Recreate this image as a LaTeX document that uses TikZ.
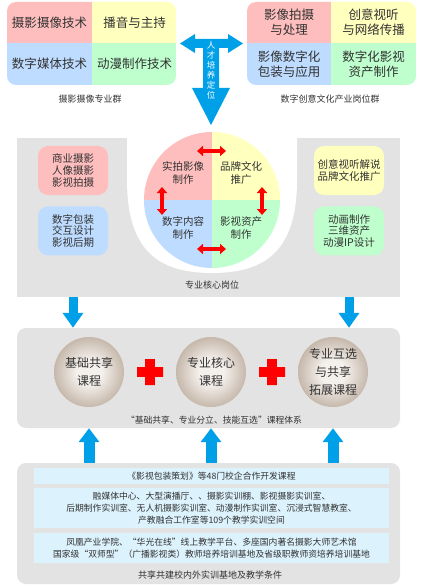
\documentclass[tikz,border=0pt]{standalone}
\usepackage{fontspec}
\setmainfont{Noto Sans CJK SC}
\usepackage{tikz}
\usetikzlibrary{arrows.meta,positioning,calc,fit}
\usepackage{xcolor}
\definecolor{quadpink}{RGB}{255,190,190}
\definecolor{quadyellow}{RGB}{255,255,190}
\definecolor{quadblue}{RGB}{190,220,255}
\definecolor{quadgreen}{RGB}{190,255,205}
\definecolor{panelgray}{RGB}{227,227,227}
\definecolor{rowblue}{RGB}{220,242,252}
\definecolor{flowblue}{RGB}{0,160,233}
\definecolor{inkgray}{RGB}{50,50,50}
\definecolor{beigein}{RGB}{244,240,236}
\definecolor{beigeout}{RGB}{198,184,171}
\pgfdeclareradialshading{coursefill}{\pgfpointorigin}{color(0bp)=(beigein); color(9bp)=(beigein); color(25bp)=(beigeout); color(50bp)=(beigeout)}

\begin{document}
\begin{tikzpicture}[x=1pt, y=-1pt,
  every node/.style={text=inkgray},
  quad/.style={inner sep=0pt, align=center, font=\fontsize{12.5}{15}\selectfont},
  hubtext/.style={inner sep=0pt, align=center, font=\fontsize{10.5}{12.5}\selectfont},
  sidebox/.style={rounded corners=10pt, inner sep=0pt, align=center, minimum width=70pt, minimum height=49pt, font=\fontsize{10.5}{11.7}\selectfont},
  caption/.style={inner sep=0pt, font=\fontsize{9}{11}\selectfont},
  panel/.style={fill=panelgray, inner sep=0pt},
  course/.style={circle, minimum size=70pt, inner sep=0pt, shade, shading=coursefill, align=center, font=\fontsize{12}{18}\selectfont},
  row/.style={fill=rowblue, minimum width=355pt, inner sep=0pt, align=center, font=\fontsize{8.8}{12}\selectfont},
  redarr/.style={{Triangle[length=6pt,width=10pt]}-{Triangle[length=6pt,width=10pt]}, line width=3.6pt, draw=red},
  downarr/.style={-{Triangle[length=15pt,width=20pt]}, line width=9pt, draw=flowblue},
  uparr/.style={-{Triangle[length=14pt,width=20pt]}, line width=11pt, draw=flowblue}
]
\useasboundingbox (0,0) rectangle (424,588);

\begin{scope}
  \clip[rounded corners=9pt] (7,2) rectangle (176,85);
  \node[quad, fill=quadpink, minimum width=86pt, minimum height=42pt] (major1) at (49.5,22.5) {摄影摄像技术};
  \node[quad, fill=quadyellow, minimum width=85pt, minimum height=42pt] (major2) at (134.5,22.5) {播音与主持};
  \node[quad, fill=quadblue, minimum width=86pt, minimum height=42pt] (major3) at (49.5,64) {数字媒体技术};
  \node[quad, fill=quadgreen, minimum width=85pt, minimum height=42pt] (major4) at (134.5,64) {动漫制作技术};
\end{scope}
\node[caption] (majorcap) at (90,99) {摄影摄像专业群};

\begin{scope}
  \clip[rounded corners=9pt] (247,2) rectangle (416,85);
  \node[quad, fill=quadpink, minimum width=85pt, minimum height=42pt] (job1) at (289,22.5) {影像拍摄\\与处理};
  \node[quad, fill=quadyellow, minimum width=86pt, minimum height=42pt] (job2) at (373.5,22.5) {创意视听\\与网络传播};
  \node[quad, fill=quadblue, minimum width=85pt, minimum height=42pt] (job3) at (289,64) {影像数字化\\包装与应用};
  \node[quad, fill=quadgreen, minimum width=86pt, minimum height=42pt] (job4) at (373.5,64) {数字化影视\\资产制作};
\end{scope}
\node[caption] (jobcap) at (330,99) {数字创意文化产业岗位群};

\fill[flowblue] (180,43.5) -- (195,34) -- (195,39) -- (228,39) -- (228,34) -- (243,43.5) -- (228,53) -- (228,48) -- (219,48) -- (219,88) -- (230,88) -- (211,125) -- (192,88) -- (203,88) -- (203,48) -- (195,48) -- (195,53) -- cycle;
\node[inner sep=0pt, align=center, text=white, font=\fontsize{8.5}{10}\selectfont] (talent) at (211,70) {人\\才\\培\\养\\定\\位};

\node[panel, minimum width=383pt, minimum height=159pt] (corepanel) at (208.5,217.5) {};
\fill[white] (127,137) -- (127,180) .. controls (127,252) and (160,273) .. (212,273) .. controls (264,273) and (297,252) .. (297,180) -- (297,137) -- cycle;

\begin{scope}
  \clip (212,200) circle (68);
  \fill[quadpink] (144,132) rectangle (212,200);
  \fill[quadyellow] (212,132) rectangle (280,200);
  \fill[quadblue] (144,200) rectangle (212,268);
  \fill[quadgreen] (212,200) rectangle (280,268);
\end{scope}
\node[hubtext] (core1) at (183,173) {实拍影像\\制作};
\node[hubtext] (core2) at (241,173) {品牌文化\\推广};
\node[hubtext] (core3) at (183,228) {数字内容\\制作};
\node[hubtext] (core4) at (241,228) {影视资产\\制作};
\draw[redarr] ($(core1)+(14,-22)$) -- ($(core2)+(-15,-22)$);
\draw[redarr] ($(core1)+(-21,14)$) -- ($(core3)+(-21,-13)$);
\draw[redarr] ($(core2)+(21,14)$) -- ($(core4)+(21,-13)$);
\draw[redarr] ($(core3)+(14,21)$) -- ($(core4)+(-15,21)$);

\node[sidebox, fill=quadpink] (post1) at (73,170.5) {商业摄影\\人像摄影\\影视拍摄};
\node[sidebox, fill=quadblue, below=11pt of post1] (post2) {数字包装\\交互设计\\影视后期};
\node[sidebox, fill=quadyellow] (post3) at (349,170.5) {创意视听解说\\品牌文化推广};
\node[sidebox, fill=quadgreen, below=11pt of post3] (post4) {动画制作\\三维资产\\动漫IP设计};
\node[caption] (corecap) at (212,285) {专业核心岗位};

\node[panel, rounded corners=9pt, minimum width=383pt, minimum height=100pt] (coursepanel) at (208.5,378) {};
\draw[downarr] (post2.south |- corepanel.south) -- (post2.south |- coursepanel.north);
\draw[downarr] (post4.south |- corepanel.south) -- (post4.south |- coursepanel.north);

\node[course] (course1) at (89,372) {基础共享\\课程};
\node[course] (course2) at (211,372) {专业核心\\课程};
\node[course] (course3) at (333,372) {专业互选\\与共享\\拓展课程};
\foreach \a/\b in {course1/course2, course2/course3}
  \fill[red] ($(\a)!.5!(\b)$) +(-13,-4.8) rectangle +(13,4.8) ($(\a)!.5!(\b)$) +(-4.8,-13) rectangle +(4.8,13);
\node[caption, font=\fontsize{8.8}{11}\selectfont] (coursecap) at (214,420) {“基础共享、专业分立、技能互选”课程体系};

\node[panel, rounded corners=9pt, minimum width=383pt, minimum height=121pt] (basepanel) at (208.5,523.5) {};
\foreach \c in {course1, course2, course3}
  \draw[uparr] (\c |- basepanel.north) -- (\c |- coursepanel.south);

\node[row, minimum height=16pt] (res1) at (211.5,476) {《影视包装策划》等48门校企合作开发课程};
\node[row, minimum height=40pt, below=4pt of res1] (res2) {融媒体中心、大型演播厅、、摄影实训棚、影视摄影实训室、\\后期制作实训室、无人机摄影实训室、动漫制作实训室、沉浸式智慧教室、\\产教融合工作室等109个教学实训空间};
\node[row, minimum height=30pt, below=4pt of res2] (res3) {凤凰产业学院、“华光在线”线上教学平台、多座国内著名摄影大师艺术馆\\国家级“双师型”（广播影视类）教师培养培训基地及省级职教师资培养培训基地};
\node[caption] (basecap) at (210,575) {共享共建校内外实训基地及教学条件};
\end{tikzpicture}
\end{document}
